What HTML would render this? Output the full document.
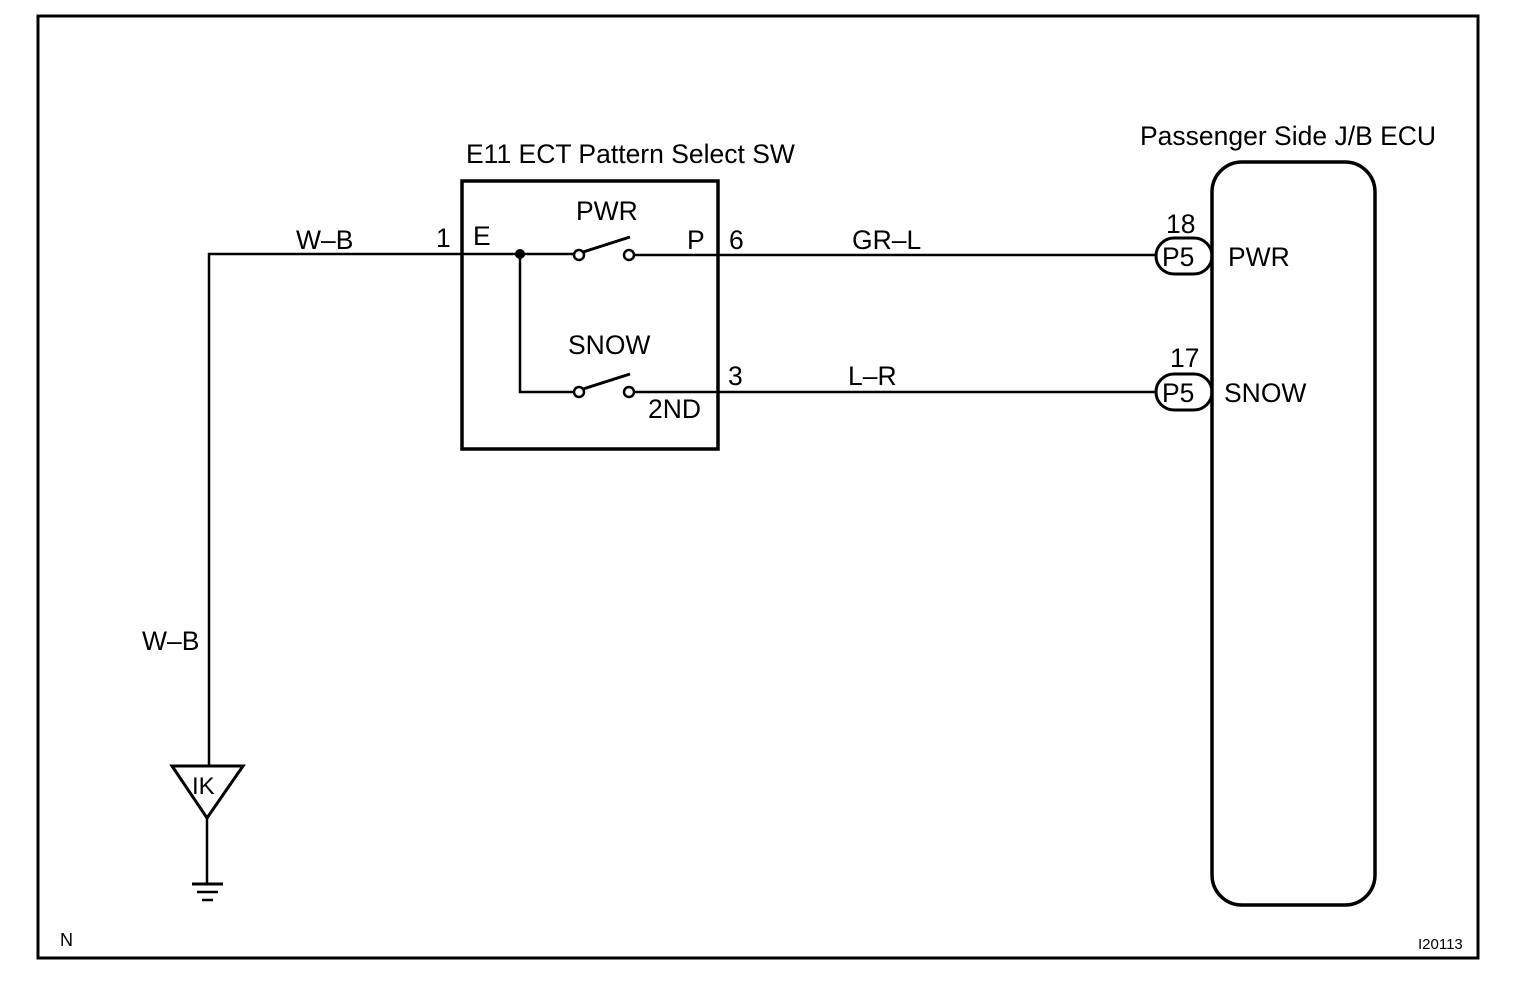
<!DOCTYPE html>
<html><head><style>body{margin:0;background:#fff}svg{display:block}text{font-family:"Liberation Sans",sans-serif;fill:#000}</style></head>
<body>
<svg width="1520" height="994" viewBox="0 0 1520 994" xmlns="http://www.w3.org/2000/svg">
<rect x="38" y="16" width="1440" height="942" fill="none" stroke="#000" stroke-width="3"/>
<g stroke="#000" fill="none" stroke-width="2.5">
<rect x="462" y="181" width="256" height="268" stroke-width="3.5"/>
<rect x="1212" y="162" width="163" height="743" rx="30" stroke-width="3.5"/>
<polyline points="209,765 209,254 574,254"/>
<line x1="634" y1="255" x2="1155" y2="255"/>
<polyline points="520,254 520,392 574,392"/>
<line x1="634" y1="392" x2="1155" y2="392"/>
<circle cx="579" cy="255" r="5"/><circle cx="629" cy="255" r="5"/>
<circle cx="579" cy="392" r="5"/><circle cx="629" cy="392" r="5"/>
<line x1="583" y1="252" x2="630" y2="237" stroke-width="3"/>
<line x1="583" y1="389" x2="630" y2="374" stroke-width="3"/>
<rect x="1156" y="238" width="56" height="36" rx="18" stroke-width="3"/>
<rect x="1156" y="374" width="56" height="36" rx="18" stroke-width="3"/>
<polygon points="172,766 243,766 207,818" stroke-width="3"/>
<line x1="207" y1="818" x2="207" y2="883"/>
<line x1="192" y1="884" x2="223" y2="884" stroke-width="3"/>
<line x1="197" y1="892" x2="218" y2="892"/>
<line x1="202" y1="900" x2="213" y2="900"/>
</g>
<circle cx="520" cy="254" r="5" fill="#000"/>
<g font-size="26.5">
<text x="466" y="163">E11 ECT Pattern Select SW</text>
<text x="1140" y="145">Passenger Side J/B ECU</text>
<text x="576" y="220">PWR</text>
<text x="568" y="354">SNOW</text>
<text x="648" y="418">2ND</text>
<text x="473" y="245">E</text>
<text x="687" y="249">P</text>
<text x="436" y="247">1</text>
<text x="729" y="249">6</text>
<text x="728" y="385">3</text>
<text x="296" y="249">W–B</text>
<text x="852" y="249">GR–L</text>
<text x="848" y="385">L–R</text>
<text x="142" y="650">W–B</text>
<text x="1166" y="233">18</text>
<text x="1170" y="367">17</text>
<text x="1162" y="266">P5</text>
<text x="1162" y="402">P5</text>
<text x="1228" y="266">PWR</text>
<text x="1224" y="402">SNOW</text>
<text x="192" y="794" font-size="24">IK</text>
</g>
<text x="60" y="946" font-size="18">N</text>
<text x="1418" y="949" font-size="15">I20113</text>
</svg>
</body></html>
